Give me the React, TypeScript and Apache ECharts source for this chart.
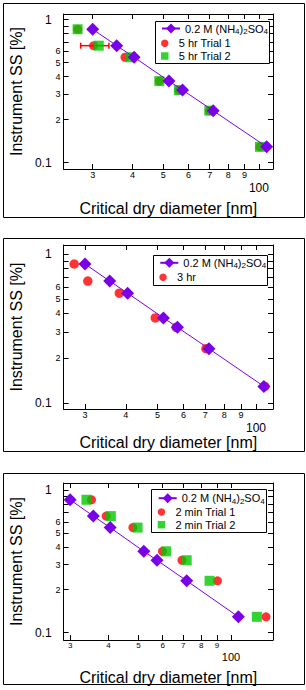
import React, { useEffect, useRef } from 'react';
import * as echarts from 'echarts';

const FONT = 'Liberation Sans, Arial, sans-serif';
const PURPLE = '#7a00e8';
const RED = '#ff0000';
const GREEN = '#00c800';

// ---- data ----
const AS_NAME = '0.2 M (NH4)2SO4';
const SS = [0.857, 0.658, 0.546, 0.372, 0.322, 0.231, 0.129];
const AS_D = [30.0, 35.7, 40.5, 52.1, 57.5, 71.8, 105.7];

const P1_T1_NAME = '5 hr Trial 1';
const P1_T2_NAME = '5 hr Trial 2';
const P1_T1_D = [26.9, 30.2, 37.9, 48.6, 56.0, 69.8, 100.7];
const P1_T2_D = [26.9, 31.35, 39.5, 48.6, 56.0, 69.8, 100.7];
const P1_ERR_LO = [27.5];
const P1_ERR_HI = [33.75];
const P1_ERR_SS = [0.658];

const P2_NAME = '3 hr';
const P2_D = [27.8, 30.6, 38.2, 49.2, 57.0, 70.3, 106.4];

const P3_T1_NAME = '2 min Trial 1';
const P3_T2_NAME = '2 min Trial 2';
const P3_T1_D = [35.2, 39.3, 48.0, 59.9, 69.3, 90.4, 130.0];
const P3_T2_D = [33.9, 40.7, 49.7, 61.5, 71.8, 85.2, 121.4];

const SQUARE_NAMES = [P1_T2_NAME, P3_T2_NAME];

const X_TICKS = [30, 40, 50, 60, 70, 80, 90, 100];
const X_LABELS = [30, 40, 50, 60, 70, 80, 90, 100];
const Y_TICKS = [0.1, 0.2, 0.3, 0.4, 0.5, 0.6, 0.7, 0.8, 0.9, 1];
const Y_LABELS = [0.1, 0.2, 0.3, 0.4, 0.5, 0.6, 1];

const X_TITLE = 'Critical dry diameter [nm]';
const Y_TITLE = 'Instrument SS [%]';

const pairs = (xs: number[]) => xs.map((x, i) => [x, SS[i]]);

type Panel = {
  frame: number[];
  grid: { left: number; top: number; width: number; height: number };
  x: number[];
  y: number[];
  xNameGap: number;
  minorFont: number;
  majFont: number;
  majPad: number;
  legendBox: number[];
  legendLeft: number;
  topA: number;
  topB: number;
  bNames: string[];
};

const PANELS: Panel[] = [
  {
    frame: [3.5, 3.5, 301, 214],
    grid: { left: 61, top: 14, width: 212, height: 155 },
    x: [24.3, 110.7],
    y: [0.0903, 1.096],
    xNameGap: 31,
    minorFont: 9,
    majFont: 12,
    majPad: 11.5,
    legendBox: [155.5, 21.5, 114, 42],
    legendLeft: 161,
    topA: 23,
    topB: 37.8,
    bNames: [P1_T1_NAME, P1_T2_NAME],
  },
  {
    frame: [3.5, 238.5, 301, 213],
    grid: { left: 61, top: 245, width: 212, height: 164 },
    x: [25.8, 112.7],
    y: [0.0909, 1.15],
    xNameGap: 24.4,
    minorFont: 9,
    majFont: 12,
    majPad: 11,
    legendBox: [153.5, 255.5, 114, 30],
    legendLeft: 159.3,
    topA: 257.3,
    topB: 271.8,
    bNames: [P2_NAME],
  },
  {
    frame: [3.5, 473.5, 301, 211],
    grid: { left: 61, top: 483, width: 212, height: 157 },
    x: [28.57, 137.0],
    y: [0.0886, 1.124],
    xNameGap: 29.4,
    minorFont: 8,
    majFont: 11,
    majPad: 9.5,
    legendBox: [151.5, 489.5, 115, 43],
    legendLeft: 157.7,
    topA: 492.7,
    topB: 506.5,
    bNames: [P3_T1_NAME, P3_T2_NAME],
  },
];

function buildOption() {
  const grid: any[] = [];
  const xAxis: any[] = [];
  const yAxis: any[] = [];
  const legend: any[] = [];
  const graphic: any[] = [];
  const series: any[] = [];

  const textStyle = { fontSize: 11, fontFamily: FONT, color: '#000' };

  PANELS.forEach((p, i) => {
    grid.push({ ...p.grid });
    const lineStyle = { color: '#000', width: 1 };
    xAxis.push({
      type: 'log',
      logBase: 10,
      gridIndex: i,
      position: 'bottom',
      min: p.x[0],
      max: p.x[1],
      axisLine: { show: true, onZero: false, lineStyle },
      axisTick: { show: true, inside: true, length: 5, customValues: X_TICKS, lineStyle },
      minorTick: { show: false },
      splitLine: { show: false },
      axisLabel: {
        show: true,
        customValues: X_LABELS,
        margin: 1.5,
        color: '#000',
        fontFamily: FONT,
        fontSize: p.minorFont,
        formatter: (v: number) => (v >= 99.9 ? `{maj|${Math.round(v)}}` : `{min|${Math.round(v / 10)}}`),
        rich: {
          min: { fontSize: p.minorFont, fontFamily: FONT, color: '#000' },
          maj: { fontSize: p.majFont, fontFamily: FONT, color: '#000', padding: [p.majPad, 0, 0, 0] },
        },
      },
      name: X_TITLE,
      nameLocation: 'middle',
      nameGap: p.xNameGap,
      nameTextStyle: { fontSize: 16, fontFamily: FONT, color: '#000' },
    });
    xAxis.push({
      type: 'log',
      logBase: 10,
      gridIndex: i,
      position: 'top',
      min: p.x[0],
      max: p.x[1],
      axisLine: { show: true, onZero: false, lineStyle },
      axisTick: { show: true, inside: true, length: 5, customValues: X_TICKS, lineStyle },
      axisLabel: { show: false },
      splitLine: { show: false },
    });
    yAxis.push({
      type: 'log',
      logBase: 10,
      gridIndex: i,
      position: 'left',
      min: p.y[0],
      max: p.y[1],
      axisLine: { show: true, onZero: false, lineStyle },
      axisTick: { show: true, inside: true, length: 5, customValues: Y_TICKS, lineStyle },
      minorTick: { show: false },
      splitLine: { show: false },
      axisLabel: {
        show: true,
        customValues: Y_LABELS,
        margin: 3,
        color: '#000',
        fontFamily: FONT,
        fontSize: 9,
        formatter: (v: number) => {
          if (Math.abs(v - 1) < 1e-6) return '{maj|1}';
          if (Math.abs(v - 0.1) < 1e-6) return '{maj|0.1}';
          return `{min|${Math.round(v * 10)}}`;
        },
        rich: {
          min: { fontSize: 9, fontFamily: FONT, color: '#000' },
          maj: { fontSize: 12, fontFamily: FONT, color: '#000', padding: [0, 9, 0, 0] },
        },
      },
      name: Y_TITLE,
      nameLocation: 'middle',
      nameGap: 38.5,
      nameTextStyle: { fontSize: 16, fontFamily: FONT, color: '#000' },
    });
    yAxis.push({
      type: 'log',
      logBase: 10,
      gridIndex: i,
      position: 'right',
      min: p.y[0],
      max: p.y[1],
      axisLine: { show: true, onZero: false, lineStyle },
      axisTick: { show: true, inside: true, length: 5, customValues: Y_TICKS, lineStyle },
      axisLabel: { show: false },
      splitLine: { show: false },
    });

    graphic.push({
      type: 'rect',
      silent: true,
      z: 0,
      shape: { x: p.frame[0], y: p.frame[1], width: p.frame[2], height: p.frame[3] },
      style: { fill: 'none', stroke: '#000', lineWidth: 1 },
    });
    graphic.push({
      type: 'rect',
      silent: true,
      z: 1,
      shape: { x: p.legendBox[0], y: p.legendBox[1], width: p.legendBox[2], height: p.legendBox[3] },
      style: { fill: '#fff', stroke: '#000', lineWidth: 1 },
    });

    legend.push({
      left: p.legendLeft,
      top: p.topA,
      orient: 'vertical',
      padding: 0,
      itemWidth: 18,
      itemHeight: 12.5,
      selectedMode: false,
      data: [AS_NAME],
      formatter: () => '0.2 M (NH{s|4}){s|2}SO{s|4}',
      textStyle: {
        ...textStyle,
        rich: { s: { fontSize: 8, fontFamily: FONT, color: '#000', padding: [6, 0, 0, 0] } },
      },
    });
    legend.push({
      left: p.legendLeft,
      top: p.topB,
      orient: 'vertical',
      padding: 0,
      itemGap: 1.7,
      itemWidth: 18,
      itemHeight: 7.5,
      symbolKeepAspect: true,
      selectedMode: false,
      data: p.bNames.map((n) =>
        SQUARE_NAMES.indexOf(n) >= 0 ? { name: n, icon: 'path://M0 0H10V10H0Z' } : { name: n, icon: 'circle' }
      ),
      textStyle,
    });

    // AS reference line in every panel
    series.push({
      type: 'line',
      name: AS_NAME,
      xAxisIndex: 2 * i,
      yAxisIndex: 2 * i,
      data: pairs(AS_D),
      symbol: 'diamond',
      symbolSize: 13,
      lineStyle: { color: PURPLE, width: 1 },
      itemStyle: { color: PURPLE },
      silent: true,
    });
  });

  // Panel 1
  series.push({
    type: 'custom',
    name: 'err',
    xAxisIndex: 0,
    yAxisIndex: 0,
    dimensions: ['lo', 'hi', 'ss'],
    encode: { x: [0, 1], y: 2 },
    data: P1_ERR_LO.map((lo, i) => [lo, P1_ERR_HI[i], P1_ERR_SS[i]]),
    silent: true,
    renderItem: (params: any, api: any) => {
      const a = api.coord([api.value(0), api.value(2)]);
      const b = api.coord([api.value(1), api.value(2)]);
      const h = 3;
      const st = { stroke: RED, lineWidth: 1.5 };
      return {
        type: 'group',
        children: [
          { type: 'line', shape: { x1: a[0], y1: a[1], x2: b[0], y2: b[1] }, style: st },
          { type: 'line', shape: { x1: a[0], y1: a[1] - h, x2: a[0], y2: a[1] + h }, style: st },
          { type: 'line', shape: { x1: b[0], y1: b[1] - h, x2: b[0], y2: b[1] + h }, style: st },
        ],
      };
    },
  });
  series.push({
    type: 'scatter', name: P1_T1_NAME, xAxisIndex: 0, yAxisIndex: 0,
    data: pairs(P1_T1_D), symbol: 'circle', symbolSize: 9, itemStyle: { color: RED }, silent: true,
  });
  series.push({
    type: 'scatter', name: P1_T2_NAME, xAxisIndex: 0, yAxisIndex: 0,
    data: pairs(P1_T2_D), symbol: 'rect', symbolSize: 10, itemStyle: { color: GREEN }, silent: true,
  });
  // Panel 2
  series.push({
    type: 'scatter', name: P2_NAME, xAxisIndex: 2, yAxisIndex: 2,
    data: pairs(P2_D), symbol: 'circle', symbolSize: 9.5, itemStyle: { color: RED }, silent: true,
  });
  // Panel 3
  series.push({
    type: 'scatter', name: P3_T1_NAME, xAxisIndex: 4, yAxisIndex: 4,
    data: pairs(P3_T1_D), symbol: 'circle', symbolSize: 9, itemStyle: { color: RED }, silent: true,
  });
  series.push({
    type: 'scatter', name: P3_T2_NAME, xAxisIndex: 4, yAxisIndex: 4,
    data: pairs(P3_T2_D), symbol: 'rect', symbolSize: 10, itemStyle: { color: GREEN }, silent: true,
  });

  return {
    animation: false,
    backgroundColor: '#fff',
    textStyle: { fontFamily: FONT },
    grid,
    xAxis,
    yAxis,
    legend,
    graphic,
    series,
  };
}

export default function App() {
  const ref = useRef<HTMLDivElement>(null);
  useEffect(() => {
    document.body.style.margin = '0';
    if (!ref.current) return;
    const chart = echarts.init(ref.current, undefined, { renderer: 'svg' });
    chart.setOption(buildOption() as any);
    return () => chart.dispose();
  }, []);
  return <div ref={ref} style={{ width: 306, height: 690 }} />;
}
